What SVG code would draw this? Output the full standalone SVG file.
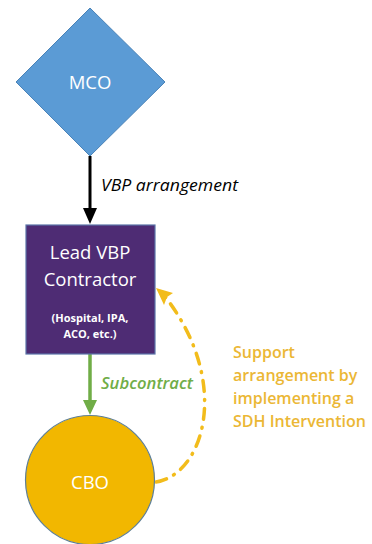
<svg xmlns="http://www.w3.org/2000/svg" width="372" height="544" viewBox="0 0 372 544">
<defs>
<style>
.t{font-family:"Open Sans","Liberation Sans",sans-serif;text-anchor:middle;fill:#fff}
.lbl{font-family:"Open Sans","Liberation Sans",sans-serif;font-style:italic;font-size:16px}
.sup{font-family:"Open Sans","Liberation Sans",sans-serif;font-weight:600;font-size:16px;fill:#EBB735}
</style>
</defs>
<g id="connectors">
<line x1="90" y1="156" x2="90" y2="210" stroke="#000" stroke-width="3"/>
<path d="M83,208 L97,208 L90,224 Z" fill="#000"/>
<line x1="90" y1="354" x2="90" y2="402" stroke="#70AD47" stroke-width="3.5"/>
<path d="M83,400 L97,400 L90,415 Z" fill="#70AD47"/>
<path d="M156,482 C205,474 232,380 163,294" fill="none" stroke="#F2BC1B" stroke-width="3.5" stroke-linecap="round" stroke-dasharray="11 8 1 8"/>
<path d="M156,288 L173,293 L167,297 L164,305 Z" fill="#F2BC1B"/>
</g>
<g id="mco">
<polygon points="90,8 165,82 90,156 16,82" fill="#5B9BD5" stroke="#4A83B8" stroke-width="1"/>
<text class="t" x="90" y="89" font-size="18.5">MCO</text>
</g>
<g id="lead">
<rect x="26" y="225" width="129" height="129" fill="#4E2C74" stroke="#5B74A8" stroke-width="1.2"/>
<text class="t" x="90" y="259" font-size="18.5">Lead VBP</text>
<text class="t" x="90" y="286" font-size="18.5">Contractor</text>
<text class="t" x="90" y="322" font-size="11" font-weight="bold">(Hospital, IPA,</text>
<text class="t" x="90" y="338" font-size="11" font-weight="bold">ACO, etc.)</text>
</g>
<g id="cbo">
<circle cx="90" cy="480" r="64.5" fill="#F2B700" stroke="#5E7F97" stroke-width="1.2"/>
<text class="t" x="90" y="489" font-size="18.5">CBO</text>
</g>
<g id="labels">
<text class="lbl" x="101" y="191" fill="#000" textLength="137" lengthAdjust="spacingAndGlyphs">VBP arrangement</text>
<text class="lbl" x="101" y="389" fill="#70AD47" font-weight="600" textLength="92" lengthAdjust="spacingAndGlyphs">Subcontract</text>
<text class="sup" x="233" y="358">Support</text>
<text class="sup" x="233" y="381">arrangement by</text>
<text class="sup" x="233" y="404">implementing a</text>
<text class="sup" x="233" y="427">SDH Intervention</text>
</g>
</svg>
